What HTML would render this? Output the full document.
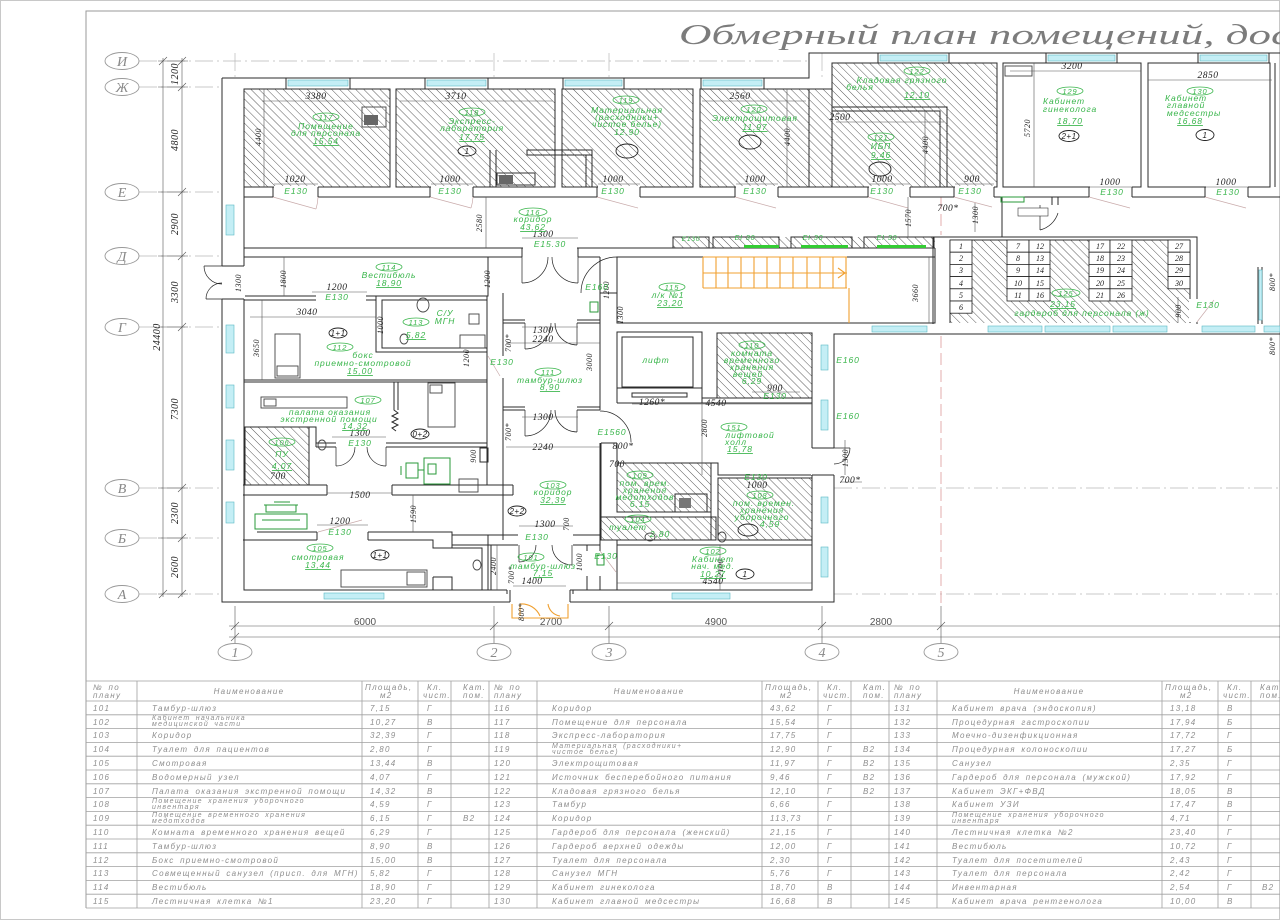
<!DOCTYPE html>
<html><head><meta charset="utf-8">
<style>
html,body{margin:0;padding:0;background:#fff;}
svg{display:block}
.w{fill:none;stroke:#2b2b2b;stroke-width:1}
.f{fill:none;stroke:#555;stroke-width:.6}
.ax{fill:none;stroke:#b8b8b8;stroke-width:.7;stroke-dasharray:18 4 2 4}
.axr{fill:none;stroke:#d99;stroke-width:.8;stroke-dasharray:12 5}
.g{fill:#38b54a;font-family:"Liberation Sans",sans-serif;font-style:italic;font-size:8.5px;letter-spacing:.9px;text-anchor:middle}
.k{fill:#222;font-family:"Liberation Serif",serif;font-style:italic;font-size:9.5px;text-anchor:middle;letter-spacing:.5px}
.t{fill:#8e8e8e;font-family:"Liberation Sans",sans-serif;font-style:italic;font-size:8px;letter-spacing:1.3px;word-spacing:2px}
.t2{font-size:7px}
.o{fill:none;stroke:#38b54a;stroke-width:.8}
.c{fill:none;stroke:#222;stroke-width:.9}
.win{fill:#c4eef5;stroke:#5ab8c4;stroke-width:.6}
.h{fill:url(#h)}
.ab{fill:#888;font-family:"Liberation Serif",serif;font-style:italic;font-size:14px;text-anchor:middle}
.dl{stroke:#c9abab;stroke-width:.7;fill:none}
.or{stroke:#f0a030;stroke-width:1.1;fill:none}
.tl{stroke:#a0a0a0;stroke-width:.8;fill:none}
.bd{fill:#555;font-family:"Liberation Sans",sans-serif;font-size:10px;text-anchor:middle}
.gr{fill:none;stroke:#2a9a3a;stroke-width:1}
.lk{fill:#222;font-family:"Liberation Serif",serif;font-style:italic;font-size:8px;text-anchor:middle}
</style></head><body>
<svg width="1280" height="920" viewBox="0 0 1280 920" xmlns="http://www.w3.org/2000/svg">
<defs>
<pattern id="h" width="5.7" height="5.7" patternUnits="userSpaceOnUse" patternTransform="rotate(-45)">
<line x1="0" y1="0" x2="0" y2="5.7" stroke="#404040" stroke-width="0.85"/>
</pattern>
</defs>
<rect x="0" y="0" width="1280" height="920" fill="#fff"/>
<rect x="0.5" y="0.5" width="1279" height="919" fill="none" stroke="#c8c8c8"/>
<path d="M86,908V11H1280" stroke="#9a9a9a" fill="none"/>

<!-- Title -->
<text x="679" y="44" textLength="612" lengthAdjust="spacingAndGlyphs" style="font-family:'Liberation Serif',serif;font-style:italic;font-size:28px;fill:#7c7c7c">Обмерный план помещений, дос</text>

<!-- axis lines -->
<path class="ax" d="M139,61H809 M139,87H222 M139,192H222 M139,256H222 M139,327H222 M139,488H222 M139,538H222 M139,594H222 M834,488H1280 M834,594H1280"/>
<path class="ax" d="M235,53V78 M494,53V78 M609,53V78 M822,53V78"/>
<path class="f" d="M235,606V643 M494,606V643 M609,606V643 M822,606V643 M941,606V643"/>
<path class="axr" d="M941,197V235 M941,336V606"/>
<!-- left dims -->
<path class="f" d="M163,58V597 M182,58V597"/>
<path class="f" d="M158,61H188 M158,87H188 M158,192H188 M158,256H188 M158,327H188 M158,488H188 M158,538H188 M158,594H188"/>
<path class="f" d="M178,65L186,57 M178,91L186,83 M178,196L186,188 M178,260L186,252 M178,331L186,323 M178,492L186,484 M178,542L186,534 M178,598L186,590 M159,65L167,57 M159,598L167,590"/>
<g class="k" style="font-size:10px">
<text transform="translate(178,74) rotate(-90)">1200</text>
<text transform="translate(178,140) rotate(-90)">4800</text>
<text transform="translate(178,224) rotate(-90)">2900</text>
<text transform="translate(178,292) rotate(-90)">3300</text>
<text transform="translate(160,337) rotate(-90)">24400</text>
<text transform="translate(178,409) rotate(-90)">7300</text>
<text transform="translate(178,513) rotate(-90)">2300</text>
<text transform="translate(178,567) rotate(-90)">2600</text>
</g>
<!-- bubbles -->
<g fill="none" stroke="#999" stroke-width=".9">
<ellipse cx="122" cy="61" rx="17" ry="8.5"/><ellipse cx="122" cy="87" rx="17" ry="8.5"/>
<ellipse cx="122" cy="192" rx="17" ry="8.5"/><ellipse cx="122" cy="256" rx="17" ry="8.5"/>
<ellipse cx="122" cy="327" rx="17" ry="8.5"/><ellipse cx="122" cy="488" rx="17" ry="8.5"/>
<ellipse cx="122" cy="538" rx="17" ry="8.5"/><ellipse cx="122" cy="594" rx="17" ry="8.5"/>
<ellipse cx="235" cy="652" rx="17" ry="8.5"/><ellipse cx="494" cy="652" rx="17" ry="8.5"/>
<ellipse cx="609" cy="652" rx="17" ry="8.5"/><ellipse cx="822" cy="652" rx="17" ry="8.5"/>
<ellipse cx="941" cy="652" rx="17" ry="8.5"/>
</g>
<g class="ab">
<text x="122" y="66">И</text><text x="122" y="92">Ж</text><text x="122" y="197">Е</text><text x="122" y="261">Д</text>
<text x="122" y="332">Г</text><text x="122" y="493">В</text><text x="122" y="543">Б</text><text x="122" y="599">А</text>
<text x="235" y="657">1</text><text x="494" y="657">2</text><text x="609" y="657">3</text><text x="822" y="657">4</text><text x="941" y="657">5</text>
</g>
<!-- bottom dims -->
<path class="f" d="M229,626H1280 M229,637H1280"/>
<path class="f" d="M231,630L239,622 M490,630L498,622 M605,630L613,622 M818,630L826,622 M937,630L945,622 M231,641L239,633"/>
<g class="bd"><text x="365" y="625">6000</text><text x="551" y="625">2700</text><text x="716" y="625">4900</text><text x="881" y="625">2800</text></g>

<!-- hatched rooms -->
<rect class="h" x="244" y="89" width="146" height="98"/>
<rect class="h" x="396" y="89" width="159" height="98"/>
<rect class="h" x="562" y="89" width="131" height="98"/>
<rect class="h" x="700" y="89" width="132" height="98"/>
<rect class="h" x="832" y="63" width="165" height="124"/>
<rect class="h" x="950" y="240" width="240" height="83"/>
<rect class="h" x="717" y="333" width="95" height="65"/>
<rect class="h" x="617" y="463" width="94" height="49"/>
<rect class="h" x="601" y="517" width="115" height="23"/>
<rect class="h" x="718" y="478" width="94" height="62"/>
<rect class="h" x="245" y="427" width="64" height="58"/>
<rect class="h" x="673" y="237" width="262" height="11"/>

<!-- walls -->
<path class="w" d="M222,78H809V53H1280 M222,78V602H510 M570,602H834V334H1280"/>
<path class="w" d="M244,89V590H507 M570,590H812V334"/>
<rect class="w" x="244" y="89" width="146" height="98"/>
<rect class="w" x="396" y="89" width="159" height="98"/>
<rect class="w" x="562" y="89" width="131" height="98"/>
<rect class="w" x="700" y="89" width="132" height="98"/>
<path class="w" d="M809,89V187"/>
<path class="w" d="M832,63H997V187H832Z"/>
<path class="w" d="M832,107H947V187 M832,111H940V187"/>
<rect class="w" x="1003" y="63" width="138" height="124"/>
<rect class="w" x="1148" y="63" width="122" height="124"/>
<path class="w" d="M1275,63V187"/>
<path class="w" d="M244,197H1280 M244,248H935 M933,237H1197V324 M1190,240V323 M950,240H1190 M950,240V323 M933,237V324"/>
<path class="w" d="M1002,197V237 M1052,197V205 M1058,197V205"/>
<path class="w" d="M1258,267V324 M1262,267V324"/>
<rect class="win" x="1259" y="270" width="3" height="50"/>
<path class="w" d="M244,257H488V296H244 M488,257H503"/>
<path class="w" d="M503,257H522 M578,257H600 M617,257H935V323H617Z M935,248V323 M950,248V323"/>
<path class="w" d="M600,257V293 M617,257V293 M600,293H617 M600,293V410 M617,293V323"/>
<rect class="w" x="382" y="300" width="105" height="48"/>
<path class="w" d="M244,300H376V352H487V380H244 M376,300V296 M487,296V380"/>
<path class="w" d="M503,293V540 M487,380V485"/>
<path class="w" d="M503,320H525 M577,320H600 M503,323H525 M577,323H600"/>
<path class="w" d="M503,407H525 M577,407H600 M503,410H525 M577,410H600"/>
<path class="w" d="M244,382H487 M487,443H316V427H244 M309,427V485 M316,443V447 M316,447H487"/>
<rect class="w" x="245" y="427" width="64" height="58"/>
<path class="w" d="M394,382V410 l4,3 -6,3 6,3 -6,3 6,3 -6,3 4,3 M398,382V410"/>
<path class="w" d="M243,485H327 M392,485H513 M243,495H327 M392,495H513 M327,485V495 M392,485V495 M513,485V495"/>
<path class="w" d="M480,448H488V462H480Z"/>
<path class="w" d="M257,532H317 M368,532H452V548 M243,540H317 M368,540H433V548H482V590 M317,532V540 M368,532V540"/>
<path class="w" d="M433,577H452V590 M433,577V590 M488,535V590 M491,545V590"/>
<path class="w" d="M452,535H518 M573,535H600 M452,545H518 M573,545H600 M587,545V590 M600,443V590"/>
<path class="w" d="M510,590V602 M570,590V602 M507,590V594 M573,590V594"/>
<path class="or" d="M512,604V618H568V604 M520,604V616 M540,616 A20,20 0 0 0 520,604 M560,616 A14,14 0 0 1 548,604"/>
<rect class="w" x="617" y="332" width="85" height="56"/>
<rect class="w" x="622" y="337" width="71" height="50"/>
<rect class="w" x="632" y="393" width="55" height="4"/>
<path class="w" d="M617,388V403 M702,388V403 M702,332V398H717"/>
<rect class="w" x="717" y="333" width="95" height="65"/>
<path class="w" d="M617,403H812 M812,475H718V463H617"/>
<rect class="w" x="617" y="463" width="94" height="49"/>
<rect class="w" x="601" y="517" width="115" height="23"/>
<rect class="w" x="718" y="478" width="94" height="62"/>
<path class="w" d="M711,463V540 M601,443V517 M617,443V463 M601,443H617"/>
<rect class="w" x="617" y="545" width="195" height="45"/>
<path class="w" d="M617,540V545 M812,540V545"/>
<rect class="w" x="675" y="494" width="32" height="18"/>
<rect x="679" y="498" width="12" height="10" fill="#777"/>

<path class="or" d="M703,257H847 M703,273H847 M703,288H847 M703,257V288 M716,257V288 M728,257V288 M741,257V288 M754,257V288 M767,257V288 M780,257V288 M793,257V288 M807,257V288 M820,257V288 M833,257V288 M846,257V288 M849,288V323 M838,268L845,273L838,278"/>

<g>
<rect class="w" x="673" y="237" width="36" height="11" fill="#fff"/>
<rect class="w" x="713" y="237" width="66" height="11"/>
<rect class="w" x="791" y="237" width="61" height="11"/>
<rect class="w" x="864" y="237" width="70" height="11"/>
<rect x="744" y="245" width="35" height="3" fill="#3c3"/>
<rect x="801" y="245" width="47" height="3" fill="#3c3"/>
<rect x="877" y="245" width="49" height="3" fill="#3c3"/>
</g>

<g fill="#fff" stroke="#222" stroke-width=".8">
<rect x="950" y="240" width="22" height="12.2"/><rect x="950" y="252.2" width="22" height="12.2"/><rect x="950" y="264.4" width="22" height="12.2"/><rect x="950" y="276.6" width="22" height="12.2"/><rect x="950" y="288.8" width="22" height="12.2"/><rect x="950" y="301" width="22" height="12.2"/>
<rect x="1007" y="240" width="22" height="12.2"/><rect x="1007" y="252.2" width="22" height="12.2"/><rect x="1007" y="264.4" width="22" height="12.2"/><rect x="1007" y="276.6" width="22" height="12.2"/><rect x="1007" y="288.8" width="22" height="12.2"/>
<rect x="1029" y="240" width="21" height="12.2"/><rect x="1029" y="252.2" width="21" height="12.2"/><rect x="1029" y="264.4" width="21" height="12.2"/><rect x="1029" y="276.6" width="21" height="12.2"/><rect x="1029" y="288.8" width="21" height="12.2"/>
<rect x="1089" y="240" width="21" height="12.2"/><rect x="1089" y="252.2" width="21" height="12.2"/><rect x="1089" y="264.4" width="21" height="12.2"/><rect x="1089" y="276.6" width="21" height="12.2"/><rect x="1089" y="288.8" width="21" height="12.2"/>
<rect x="1110" y="240" width="22" height="12.2"/><rect x="1110" y="252.2" width="22" height="12.2"/><rect x="1110" y="264.4" width="22" height="12.2"/><rect x="1110" y="276.6" width="22" height="12.2"/><rect x="1110" y="288.8" width="22" height="12.2"/>
<rect x="1168" y="240" width="22" height="12.2"/><rect x="1168" y="252.2" width="22" height="12.2"/><rect x="1168" y="264.4" width="22" height="12.2"/><rect x="1168" y="276.6" width="22" height="12.2"/>
</g>
<g class="lk">
<text x="961" y="249">1</text><text x="961" y="261">2</text><text x="961" y="273">3</text><text x="961" y="286">4</text><text x="961" y="298">5</text><text x="961" y="310">6</text>
<text x="1018" y="249">7</text><text x="1018" y="261">8</text><text x="1018" y="273">9</text><text x="1018" y="286">10</text><text x="1018" y="298">11</text>
<text x="1040" y="249">12</text><text x="1040" y="261">13</text><text x="1040" y="273">14</text><text x="1040" y="286">15</text><text x="1040" y="298">16</text>
<text x="1100" y="249">17</text><text x="1100" y="261">18</text><text x="1100" y="273">19</text><text x="1100" y="286">20</text><text x="1100" y="298">21</text>
<text x="1121" y="249">22</text><text x="1121" y="261">23</text><text x="1121" y="273">24</text><text x="1121" y="286">25</text><text x="1121" y="298">26</text>
<text x="1179" y="249">27</text><text x="1179" y="261">28</text><text x="1179" y="273">29</text><text x="1179" y="286">30</text>
</g>

<g class="win">
<rect x="288" y="80" width="60" height="6"/><rect x="427" y="80" width="59" height="6"/><rect x="565" y="80" width="57" height="6"/><rect x="703" y="80" width="59" height="6"/>
<rect x="880" y="55" width="67" height="6"/><rect x="1048" y="55" width="67" height="6"/><rect x="1200" y="55" width="67" height="6"/>
<rect x="226" y="205" width="8" height="30"/><rect x="226" y="325" width="8" height="28"/><rect x="226" y="385" width="8" height="23"/><rect x="226" y="440" width="8" height="30"/><rect x="226" y="502" width="8" height="21"/>
<rect x="324" y="593" width="60" height="6"/><rect x="672" y="593" width="58" height="6"/>
<rect x="821" y="345" width="7" height="25"/><rect x="821" y="400" width="7" height="30"/><rect x="821" y="497" width="7" height="26"/><rect x="821" y="547" width="7" height="30"/>
<rect x="872" y="326" width="55" height="6"/><rect x="988" y="326" width="54" height="6"/><rect x="1045" y="326" width="65" height="6"/><rect x="1113" y="326" width="54" height="6"/><rect x="1202" y="326" width="53" height="6"/><rect x="1264" y="326" width="16" height="6"/>
</g>
<path class="w" d="M286,78V89 M350,78V89 M425,78V89 M488,78V89 M563,78V89 M624,78V89 M701,78V89 M764,78V89 M878,53V63 M949,53V63 M1046,53V63 M1117,53V63 M1198,53V63 M1269,53V63"/>

<g fill="#fff">
<rect x="274" y="186" width="44" height="12"/><rect x="431" y="186" width="42" height="12"/><rect x="598" y="186" width="42" height="12"/><rect x="736" y="186" width="42" height="12"/><rect x="869" y="186" width="41" height="12"/><rect x="955" y="186" width="39" height="12"/><rect x="1090" y="186" width="42" height="12"/><rect x="1206" y="186" width="42" height="12"/>
<rect x="523" y="247" width="54" height="12"/>
<rect x="316" y="295" width="50" height="6"/>
<rect x="336" y="442" width="50" height="6"/>
<rect x="318" y="531" width="49" height="10"/>
<rect x="519" y="534" width="53" height="12"/>
<rect x="221" y="266" width="24" height="33"/>
<rect x="811" y="448" width="24" height="27"/>
<rect x="1189" y="299" width="9" height="23"/>
<rect x="599" y="411" width="19" height="31"/>
<rect x="586" y="551" width="15" height="25"/>
<rect x="488" y="356" width="16" height="22"/>
<rect x="511" y="589" width="58" height="14"/>
</g>
<path class="w" d="M273,187V197 M318,187V197 M430,187V197 M473,187V197 M597,187V197 M640,187V197 M735,187V197 M778,187V197 M868,187V197 M910,187V197 M954,187V197 M994,187V197 M1089,187V197 M1132,187V197 M1205,187V197 M1248,187V197 M522,248V257 M578,248V257 M222,266H244 M222,299H244 M812,448H834 M812,475H834"/>
<g class="dl">
<path d="M273,197L316,209 M430,197L471,208 M597,197L638,208 M735,197L776,208 M868,197L908,208 M954,197L992,207 M1089,197L1130,208 M1205,197L1246,208"/>
<path d="M318,197A45,45 0 0 1 316,209 M473,197A42,42 0 0 1 471,208"/>
</g>
<g class="c" style="stroke-width:.7">
<path d="M522,257V283 M522,283A26,26 0 0 0 548,257 M578,257V283 M578,283A26,26 0 0 1 552,257"/>
<path d="M525,323V349 M525,349A26,26 0 0 0 551,323 M577,323V345 M577,345A22,22 0 0 1 555,323"/>
<path d="M525,410V436 M525,436A26,26 0 0 0 551,410 M577,410V432 M577,432A22,22 0 0 1 555,410"/>
<path d="M222,266H204 M204,266A18,18 0 0 0 222,284 M222,299H206 M206,299A16,16 0 0 1 222,283"/>
<path d="M834,448H850 M850,448A16,16 0 0 1 834,464"/>
<path d="M617,257A36,36 0 0 0 581,293"/>
<path d="M600,411A31,31 0 0 1 631,442"/>
<path d="M336,447V466 M336,466A19,19 0 0 0 355,447 M386,447V466 M386,466A19,19 0 0 1 367,447"/>
<path d="M519,545V562 M519,562A17,17 0 0 0 536,545 M572,545V565 M572,565A20,20 0 0 1 552,545"/>
<path d="M1040,205V230 M1040,230A25,25 0 0 0 1058,213"/>
</g>
<path class="dl" d="M318,532L362,520 M1197,322L1214,300 M600,551L616,572 M488,356L500,376"/>

<g class="c" style="stroke:#444">
<rect x="275" y="334" width="25" height="44"/><rect x="277" y="366" width="21" height="10"/>
<rect x="261" y="397" width="86" height="11"/><rect x="264" y="399" width="12" height="7"/>
<rect x="428" y="383" width="27" height="44"/><rect x="430" y="385" width="12" height="8"/>
<rect x="341" y="570" width="86" height="17"/><rect x="407" y="572" width="18" height="13"/>
<rect x="460" y="335" width="25" height="13"/>
<rect x="459" y="479" width="19" height="13"/>
<ellipse cx="423" cy="305" rx="6" ry="7"/>
<ellipse cx="404" cy="339" rx="4" ry="5"/>
<ellipse cx="322" cy="445" rx="4" ry="5"/>
<ellipse cx="477" cy="565" rx="4" ry="5"/>
<ellipse cx="722" cy="537" rx="4" ry="5"/>
<ellipse cx="650" cy="537" rx="5" ry="4"/>
<rect x="1005" y="66" width="27" height="10"/>
<rect x="469" y="314" width="10" height="10"/>
<rect x="362" y="107" width="24" height="20"/>
</g>
<rect x="364" y="115" width="14" height="10" fill="#666"/>
<rect x="497" y="173" width="38" height="12" fill="none" stroke="#333"/>
<rect x="499" y="175" width="14" height="9" fill="#666"/>
<path class="w" d="M490,150V187 M496,150V187 M527,150H592V155H527Z M586,155V187 M592,155V187"/>
<rect x="1001" y="197" width="23" height="5" fill="none" stroke="#2a9a3a"/>
<rect x="1018" y="208" width="30" height="8" fill="#fff" stroke="#333" stroke-width=".6"/>
<g class="gr">
<rect x="255" y="514" width="52" height="15"/>
<path d="M264,505H298 M266,505V512H296V505 M274,502H290 M262,520H300"/>
<rect x="424" y="458" width="26" height="26"/>
<path d="M406,463H418V478H406Z M401,466V475 M418,470H424"/>
<rect x="428" y="464" width="8" height="10"/>
<rect x="590" y="302" width="8" height="10"/>
<rect x="597" y="555" width="7" height="10"/>
</g>

<g class="f">
<path d="M262,101H388 M400,101H553 M702,101H806 M836,122H944 M1010,71H1141 M1148,80H1272 M1034,63V187"/>
<path d="M274,184H318 M431,184H473 M598,184H640 M736,184H778 M869,184H910 M955,184H994 M1090,187H1132 M1206,187H1248"/>
<path d="M264,89V187 M787,89V187 M925,110V187 M486,197V248 M284,257V296 M522,238H578 M312,292H367 M250,317H376 M262,300V380"/>
<path d="M522,327H578 M506,343H600 M522,417H578 M506,447H600 M632,404H812 M752,392H800 M702,403V475"/>
<path d="M327,493H392 M317,525H368 M413,495V532 M519,526H573 M497,545V590 M513,586H566 M617,583H812 M720,545V590 M332,437H386"/>
<path d="M908,197V237 M975,203V232 M929,257V323 M1178,297V323 M845,440V475 M840,482H862"/>
</g>

<g class="k">
<text x="316" y="99">3380</text><text x="456" y="99">3710</text><text x="740" y="99">2560</text><text x="840" y="120">2500</text>
<text x="1072" y="69">3200</text><text x="1208" y="78">2850</text>
<text x="295" y="182">1020</text><text x="450" y="182">1000</text><text x="613" y="182">1000</text><text x="755" y="182">1000</text><text x="882" y="182">1000</text><text x="972" y="182">900</text><text x="1110" y="185">1000</text><text x="1226" y="185">1000</text>
<text x="543" y="237">1300</text><text x="337" y="290">1200</text><text x="307" y="315">3040</text>
<text x="543" y="333">1300</text><text x="543" y="342">2240</text><text x="543" y="420">1300</text><text x="543" y="450">2240</text>
<text x="652" y="405">1260*</text><text x="716" y="406">4540</text><text x="775" y="391">900</text>
<text x="360" y="436">1300</text><text x="623" y="449">800*</text><text x="617" y="467">700</text><text x="757" y="488">1000</text>
<text x="360" y="498">1500</text><text x="278" y="479">700</text><text x="340" y="524">1200</text><text x="545" y="527">1300</text>
<text x="532" y="584">1400</text><text x="713" y="584">4540</text><text x="850" y="483">700*</text><text x="948" y="211">700*</text>
</g>
<g class="k" style="font-size:8px">
<text transform="translate(261,137) rotate(-90)">4400</text>
<text transform="translate(790,137) rotate(-90)">4400</text>
<text transform="translate(928,145) rotate(-90)">4400</text>
<text transform="translate(1030,128) rotate(-90)">5720</text>
<text transform="translate(482,223) rotate(-90)">2580</text>
<text transform="translate(286,279) rotate(-90)">1800</text>
<text transform="translate(241,283) rotate(-90)">1300</text>
<text transform="translate(490,279) rotate(-90)">1200</text>
<text transform="translate(259,348) rotate(-90)">3650</text>
<text transform="translate(383,325) rotate(-90)">1000</text>
<text transform="translate(469,358) rotate(-90)">1200</text>
<text transform="translate(511,343) rotate(-90)">700*</text>
<text transform="translate(511,432) rotate(-90)">700*</text>
<text transform="translate(592,362) rotate(-90)">3000</text>
<text transform="translate(707,428) rotate(-90)">2800</text>
<text transform="translate(848,458) rotate(-90)">1300</text>
<text transform="translate(476,456) rotate(-90)">900</text>
<text transform="translate(416,514) rotate(-90)">1590</text>
<text transform="translate(569,524) rotate(-90)">700</text>
<text transform="translate(514,575) rotate(-90)">700*</text>
<text transform="translate(496,566) rotate(-90)">2400</text>
<text transform="translate(582,562) rotate(-90)">1000</text>
<text transform="translate(723,568) rotate(-90)">2100</text>
<text transform="translate(524,612) rotate(-90)">800*</text>
<text transform="translate(911,218) rotate(-90)">1570</text>
<text transform="translate(978,215) rotate(-90)">1300</text>
<text transform="translate(918,293) rotate(-90)">3660</text>
<text transform="translate(1181,311) rotate(-90)">900</text>
<text transform="translate(1275,282) rotate(-90)">800*</text>
<text transform="translate(1275,346) rotate(-90)">800*</text>
<text transform="translate(623,315) rotate(-90)">1300</text>
<text transform="translate(609,290) rotate(-90)">1200</text>
</g>

<g class="o">
<ellipse cx="326" cy="117" rx="13" ry="4"/><ellipse cx="472" cy="112" rx="13" ry="4"/><ellipse cx="626" cy="100" rx="13" ry="4"/><ellipse cx="754" cy="109" rx="13" ry="4"/>
<ellipse cx="917" cy="71" rx="13" ry="4"/><ellipse cx="881" cy="137" rx="13" ry="4"/><ellipse cx="1070" cy="91" rx="13" ry="4"/><ellipse cx="1200" cy="91" rx="13" ry="4"/>
<ellipse cx="533" cy="212" rx="14" ry="4"/><ellipse cx="389" cy="267" rx="13" ry="4"/><ellipse cx="416" cy="322" rx="13" ry="4"/><ellipse cx="340" cy="347" rx="13" ry="4"/>
<ellipse cx="368" cy="400" rx="13" ry="4"/><ellipse cx="282" cy="442" rx="13" ry="4"/><ellipse cx="548" cy="372" rx="13" ry="4"/><ellipse cx="672" cy="287" rx="13" ry="4"/>
<ellipse cx="752" cy="345" rx="13" ry="4"/><ellipse cx="734" cy="427" rx="13" ry="4"/><ellipse cx="553" cy="485" rx="13" ry="4"/><ellipse cx="640" cy="475" rx="13" ry="4"/>
<ellipse cx="638" cy="519" rx="13" ry="4"/><ellipse cx="760" cy="495" rx="13" ry="4"/><ellipse cx="713" cy="551" rx="13" ry="4"/><ellipse cx="531" cy="557" rx="13" ry="4"/>
<ellipse cx="320" cy="548" rx="13" ry="4"/><ellipse cx="1066" cy="293" rx="14" ry="4"/>
</g>
<g class="c">
<ellipse cx="467" cy="151" rx="9" ry="5"/><ellipse cx="627" cy="151" rx="11" ry="7"/><ellipse cx="750" cy="142" rx="11" ry="7"/><ellipse cx="880" cy="169" rx="11" ry="7"/>
<ellipse cx="1069" cy="136" rx="10" ry="5.5"/><ellipse cx="1205" cy="135" rx="9" ry="5.5"/><ellipse cx="338" cy="333" rx="9" ry="5"/><ellipse cx="420" cy="434" rx="9" ry="5"/>
<ellipse cx="517" cy="511" rx="9" ry="5"/><ellipse cx="380" cy="555" rx="9" ry="5"/><ellipse cx="745" cy="574" rx="9" ry="5"/><ellipse cx="748" cy="530" rx="10" ry="6"/>
</g>
<g class="k" style="font-size:8px;font-family:'Liberation Sans',sans-serif">
<text x="467" y="154">1</text><text x="1069" y="139">2+1</text><text x="1205" y="138">1</text><text x="338" y="336">1+1</text><text x="420" y="437">0+2</text>
<text x="517" y="514">2+2</text><text x="380" y="558">1+1</text><text x="745" y="577">1</text>
</g>

<g class="g">
<text x="326" y="120" style="font-size:7.5px">117</text><text x="326" y="129">Помещение</text><text x="326" y="136">для персонала</text><text x="326" y="144" text-decoration="underline">15,54</text>
<text x="472" y="115" style="font-size:7.5px">118</text><text x="472" y="124">Экспресс-</text><text x="472" y="131">лаборатория</text><text x="472" y="140" text-decoration="underline">17,75</text>
<text x="626" y="103" style="font-size:7.5px">119</text><text x="627" y="113">Материальная</text><text x="627" y="120">(расходники+</text><text x="627" y="127">чистое белье)</text><text x="627" y="135">12,90</text>
<text x="754" y="112" style="font-size:7.5px">120</text><text x="755" y="121">Электрощитовая</text><text x="755" y="130" text-decoration="underline">11,97</text>
<text x="917" y="74" style="font-size:7.5px">122</text><text x="902" y="83">Кладовая грязного</text><text x="860" y="90">белья</text><text x="917" y="98" text-decoration="underline">12,10</text>
<text x="881" y="140" style="font-size:7.5px">121</text><text x="881" y="149">ИБП</text><text x="881" y="158" text-decoration="underline">9,46</text>
<text x="1070" y="94" style="font-size:7.5px">129</text><text x="1064" y="104">Кабинет</text><text x="1070" y="112">гинеколога</text><text x="1070" y="124" text-decoration="underline">18,70</text>
<text x="1200" y="94" style="font-size:7.5px">130</text><text x="1186" y="101">Кабинет</text><text x="1186" y="108">главной</text><text x="1194" y="116">медсестры</text><text x="1190" y="124" text-decoration="underline">16,68</text>
<text x="533" y="215" style="font-size:7.5px">116</text><text x="533" y="222">коридор</text><text x="533" y="230" text-decoration="underline">43,62</text>
<text x="389" y="270" style="font-size:7.5px">114</text><text x="389" y="278">Вестибюль</text><text x="389" y="286" text-decoration="underline">18,90</text>
<text x="416" y="325" style="font-size:7.5px">113</text><text x="416" y="338" text-decoration="underline">5,82</text><text x="445" y="316">С/У</text><text x="445" y="324">МГН</text>
<text x="340" y="350" style="font-size:7.5px">112</text><text x="363" y="358">бокс</text><text x="363" y="366">приемно-смотровой</text><text x="360" y="374" text-decoration="underline">15,00</text>
<text x="368" y="403" style="font-size:7.5px">107</text><text x="330" y="415">палата оказания</text><text x="329" y="422">экстренной помощи</text><text x="355" y="429" text-decoration="underline">14,32</text>
<text x="282" y="445" style="font-size:7.5px">106</text><text x="282" y="457">ПУ</text><text x="282" y="469" text-decoration="underline">4,07</text>
<text x="548" y="375" style="font-size:7.5px">111</text><text x="550" y="383">тамбур-шлюз</text><text x="550" y="390" text-decoration="underline">8,90</text>
<text x="672" y="290" style="font-size:7.5px">115</text><text x="668" y="298">л/к №1</text><text x="670" y="306" text-decoration="underline">23,20</text>
<text x="656" y="363">лифт</text>
<text x="752" y="348" style="font-size:7.5px">110</text><text x="752" y="356">комната</text><text x="752" y="363">временного</text><text x="752" y="370">хранения</text><text x="748" y="377">вещей</text><text x="752" y="384">6,29</text>
<text x="734" y="430" style="font-size:7.5px">151</text><text x="750" y="438">лифтовой</text><text x="736" y="445">холл</text><text x="740" y="452" text-decoration="underline">15,78</text>
<text x="553" y="488" style="font-size:7.5px">103</text><text x="553" y="495">коридор</text><text x="553" y="503" text-decoration="underline">32,39</text>
<text x="640" y="478" style="font-size:7.5px">109</text><text x="645" y="486">пом. врем.</text><text x="645" y="493">хранения</text><text x="645" y="500">медотходов</text><text x="640" y="507">6,15</text>
<text x="638" y="522" style="font-size:7.5px">104</text><text x="628" y="530">туалет</text><text x="660" y="537">2,80</text>
<text x="760" y="498" style="font-size:7.5px">108</text><text x="764" y="506">пом. времен.</text><text x="762" y="513">хранения</text><text x="762" y="520">уборочного</text><text x="770" y="527">4,59</text>
<text x="713" y="554" style="font-size:7.5px">102</text><text x="713" y="562">Кабинет</text><text x="713" y="569">нач. мед.</text><text x="713" y="577" text-decoration="underline">10,27</text>
<text x="531" y="560" style="font-size:7.5px">101</text><text x="543" y="569">тамбур-шлюз</text><text x="543" y="576" text-decoration="underline">7,15</text>
<text x="320" y="551" style="font-size:7.5px">105</text><text x="318" y="560">смотровая</text><text x="318" y="568" text-decoration="underline">13,44</text>
<text x="1066" y="296" style="font-size:7.5px">125</text><text x="1063" y="307" text-decoration="underline">23,15</text><text x="1082" y="316">гардероб для персонала (ж)</text>
<text x="296" y="194">E130</text><text x="450" y="194">E130</text><text x="613" y="194">E130</text><text x="755" y="194">E130</text><text x="882" y="194">E130</text><text x="970" y="194">E130</text><text x="1112" y="195">E130</text><text x="1228" y="195">E130</text>
<text x="550" y="247">E15.30</text><text x="597" y="290">E160</text><text x="337" y="300">E130</text><text x="502" y="365">E130</text><text x="612" y="435">E1560</text>
<text x="360" y="446">E130</text><text x="340" y="535">E130</text><text x="537" y="540">E130</text><text x="606" y="559">E130</text><text x="775" y="399">E130</text>
<text x="848" y="363">E160</text><text x="848" y="419">E160</text><text x="1208" y="308">E130</text><text x="756" y="480">E130</text>
<text x="691" y="241" style="font-size:6.5px">E130</text><text x="745" y="240" style="font-size:7px">EI 30</text><text x="813" y="240" style="font-size:7px">EI 30</text><text x="887" y="240" style="font-size:7px">EI 30</text>
</g>

<!-- TABLE -->
<g class="tl">
<path d="M86,681H1280 M86,701H1280 M86,714.8H1280 M86,728.6H1280 M86,742.4H1280 M86,756.2H1280 M86,770H1280 M86,783.8H1280 M86,797.6H1280 M86,811.4H1280 M86,825.2H1280 M86,839H1280 M86,852.8H1280 M86,866.6H1280 M86,880.4H1280 M86,894.2H1280 M86,908H1280"/>
<path d="M86,681V908 M137,681V908 M362,681V908 M418,681V908 M451,681V908 M489,681V908 M537,681V908 M762,681V908 M818,681V908 M851,681V908 M889,681V908 M937,681V908 M1162,681V908 M1218,681V908 M1251,681V908"/>
</g>
<g class="t">
<text x="93" y="690">№ по</text><text x="93" y="698">плану</text><text x="249" y="694" text-anchor="middle">Наименование</text>
<text x="365" y="690">Площадь,</text><text x="380" y="698">м2</text><text x="427" y="690">Кл.</text><text x="423" y="698">чист.</text><text x="463" y="690">Кат.</text><text x="463" y="698">пом.</text>
<text x="494" y="690">№ по</text><text x="494" y="698">плану</text><text x="649" y="694" text-anchor="middle">Наименование</text>
<text x="765" y="690">Площадь,</text><text x="780" y="698">м2</text><text x="827" y="690">Кл.</text><text x="823" y="698">чист.</text><text x="863" y="690">Кат.</text><text x="863" y="698">пом.</text>
<text x="894" y="690">№ по</text><text x="894" y="698">плану</text><text x="1049" y="694" text-anchor="middle">Наименование</text>
<text x="1165" y="690">Площадь,</text><text x="1180" y="698">м2</text><text x="1227" y="690">Кл.</text><text x="1223" y="698">чист.</text><text x="1260" y="690">Кат.</text><text x="1260" y="698">пом.</text>

<text x="93" y="711">101</text><text x="152" y="711">Тамбур-шлюз</text><text x="370" y="711">7,15</text><text x="427" y="711">Г</text>
<text x="93" y="725">102</text><text x="152" y="720" class="t2">Кабинет начальника</text><text x="152" y="726" class="t2">медицинской части</text><text x="370" y="725">10,27</text><text x="427" y="725">В</text>
<text x="93" y="738">103</text><text x="152" y="738">Коридор</text><text x="370" y="738">32,39</text><text x="427" y="738">Г</text>
<text x="93" y="752">104</text><text x="152" y="752">Туалет для пациентов</text><text x="370" y="752">2,80</text><text x="427" y="752">Г</text>
<text x="93" y="766">105</text><text x="152" y="766">Смотровая</text><text x="370" y="766">13,44</text><text x="427" y="766">В</text>
<text x="93" y="780">106</text><text x="152" y="780">Водомерный узел</text><text x="370" y="780">4,07</text><text x="427" y="780">Г</text>
<text x="93" y="794">107</text><text x="152" y="794">Палата оказания экстренной помощи</text><text x="370" y="794">14,32</text><text x="427" y="794">В</text>
<text x="93" y="807">108</text><text x="152" y="803" class="t2">Помещение хранения уборочного</text><text x="152" y="809" class="t2">инвентаря</text><text x="370" y="807">4,59</text><text x="427" y="807">Г</text>
<text x="93" y="821">109</text><text x="152" y="817" class="t2">Помещение временного хранения</text><text x="152" y="823" class="t2">медотходов</text><text x="370" y="821">6,15</text><text x="427" y="821">Г</text><text x="463" y="821">В2</text>
<text x="93" y="835">110</text><text x="152" y="835">Комната временного хранения вещей</text><text x="370" y="835">6,29</text><text x="427" y="835">Г</text>
<text x="93" y="849">111</text><text x="152" y="849">Тамбур-шлюз</text><text x="370" y="849">8,90</text><text x="427" y="849">В</text>
<text x="93" y="863">112</text><text x="152" y="863">Бокс приемно-смотровой</text><text x="370" y="863">15,00</text><text x="427" y="863">В</text>
<text x="93" y="876">113</text><text x="152" y="876">Совмещенный санузел (присп. для МГН)</text><text x="370" y="876">5,82</text><text x="427" y="876">Г</text>
<text x="93" y="890">114</text><text x="152" y="890">Вестибюль</text><text x="370" y="890">18,90</text><text x="427" y="890">Г</text>
<text x="93" y="904">115</text><text x="152" y="904">Лестничная клетка №1</text><text x="370" y="904">23,20</text><text x="427" y="904">Г</text>

<text x="494" y="711">116</text><text x="552" y="711">Коридор</text><text x="770" y="711">43,62</text><text x="827" y="711">Г</text>
<text x="494" y="725">117</text><text x="552" y="725">Помещение для персонала</text><text x="770" y="725">15,54</text><text x="827" y="725">Г</text>
<text x="494" y="738">118</text><text x="552" y="738">Экспресс-лаборатория</text><text x="770" y="738">17,75</text><text x="827" y="738">Г</text>
<text x="494" y="752">119</text><text x="552" y="748" class="t2">Материальная (расходники+</text><text x="552" y="754" class="t2">чистое белье)</text><text x="770" y="752">12,90</text><text x="827" y="752">Г</text><text x="863" y="752">В2</text>
<text x="494" y="766">120</text><text x="552" y="766">Электрощитовая</text><text x="770" y="766">11,97</text><text x="827" y="766">Г</text><text x="863" y="766">В2</text>
<text x="494" y="780">121</text><text x="552" y="780">Источник бесперебойного питания</text><text x="770" y="780">9,46</text><text x="827" y="780">Г</text><text x="863" y="780">В2</text>
<text x="494" y="794">122</text><text x="552" y="794">Кладовая грязного белья</text><text x="770" y="794">12,10</text><text x="827" y="794">Г</text><text x="863" y="794">В2</text>
<text x="494" y="807">123</text><text x="552" y="807">Тамбур</text><text x="770" y="807">6,66</text><text x="827" y="807">Г</text>
<text x="494" y="821">124</text><text x="552" y="821">Коридор</text><text x="770" y="821">113,73</text><text x="827" y="821">Г</text>
<text x="494" y="835">125</text><text x="552" y="835">Гардероб для персонала (женский)</text><text x="770" y="835">21,15</text><text x="827" y="835">Г</text>
<text x="494" y="849">126</text><text x="552" y="849">Гардероб верхней одежды</text><text x="770" y="849">12,00</text><text x="827" y="849">Г</text>
<text x="494" y="863">127</text><text x="552" y="863">Туалет для персонала</text><text x="770" y="863">2,30</text><text x="827" y="863">Г</text>
<text x="494" y="876">128</text><text x="552" y="876">Санузел МГН</text><text x="770" y="876">5,76</text><text x="827" y="876">Г</text>
<text x="494" y="890">129</text><text x="552" y="890">Кабинет гинеколога</text><text x="770" y="890">18,70</text><text x="827" y="890">В</text>
<text x="494" y="904">130</text><text x="552" y="904">Кабинет главной медсестры</text><text x="770" y="904">16,68</text><text x="827" y="904">В</text>

<text x="894" y="711">131</text><text x="952" y="711">Кабинет врача (эндоскопия)</text><text x="1170" y="711">13,18</text><text x="1227" y="711">В</text>
<text x="894" y="725">132</text><text x="952" y="725">Процедурная гастроскопии</text><text x="1170" y="725">17,94</text><text x="1227" y="725">Б</text>
<text x="894" y="738">133</text><text x="952" y="738">Моечно-дизенфикционная</text><text x="1170" y="738">17,72</text><text x="1227" y="738">Г</text>
<text x="894" y="752">134</text><text x="952" y="752">Процедурная колоноскопии</text><text x="1170" y="752">17,27</text><text x="1227" y="752">Б</text>
<text x="894" y="766">135</text><text x="952" y="766">Санузел</text><text x="1170" y="766">2,35</text><text x="1227" y="766">Г</text>
<text x="894" y="780">136</text><text x="952" y="780">Гардероб для персонала (мужской)</text><text x="1170" y="780">17,92</text><text x="1227" y="780">Г</text>
<text x="894" y="794">137</text><text x="952" y="794">Кабинет ЭКГ+ФВД</text><text x="1170" y="794">18,05</text><text x="1227" y="794">В</text>
<text x="894" y="807">138</text><text x="952" y="807">Кабинет УЗИ</text><text x="1170" y="807">17,47</text><text x="1227" y="807">В</text>
<text x="894" y="821">139</text><text x="952" y="817" class="t2">Помещение хранения уборочного</text><text x="952" y="823" class="t2">инвентаря</text><text x="1170" y="821">4,71</text><text x="1227" y="821">Г</text>
<text x="894" y="835">140</text><text x="952" y="835">Лестничная клетка №2</text><text x="1170" y="835">23,40</text><text x="1227" y="835">Г</text>
<text x="894" y="849">141</text><text x="952" y="849">Вестибюль</text><text x="1170" y="849">10,72</text><text x="1227" y="849">Г</text>
<text x="894" y="863">142</text><text x="952" y="863">Туалет для посетителей</text><text x="1170" y="863">2,43</text><text x="1227" y="863">Г</text>
<text x="894" y="876">143</text><text x="952" y="876">Туалет для персонала</text><text x="1170" y="876">2,42</text><text x="1227" y="876">Г</text>
<text x="894" y="890">144</text><text x="952" y="890">Инвентарная</text><text x="1170" y="890">2,54</text><text x="1227" y="890">Г</text><text x="1262" y="890">В2</text>
<text x="894" y="904">145</text><text x="952" y="904">Кабинет врача рентгенолога</text><text x="1170" y="904">10,00</text><text x="1227" y="904">В</text>
</g>
</svg>
</body></html>
